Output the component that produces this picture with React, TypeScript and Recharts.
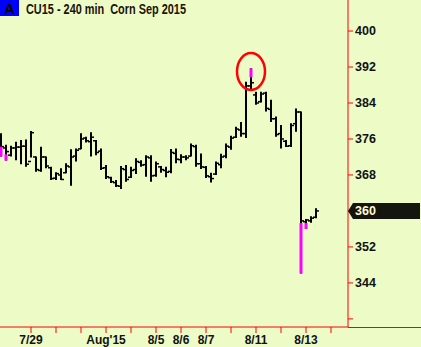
import React from 'react';
import { ComposedChart, Bar, XAxis, YAxis, ReferenceDot } from 'recharts';

// 240 min bars, CU15
const highs = [
  377.3, 374.7, 374.5, 375.4, 375.8, 375.9, 377.8, 372.1, 374.3, 372.1,
  369.8, 368.6, 369.5, 370.6, 373.7, 373.9, 377.3, 376.5, 377.5, 375.8,
  373.9, 370.2, 367.6, 366.9, 370.0, 370.2, 369.8, 371.7, 371.3, 372.4,
  372.4, 371.0, 370.0, 369.8, 373.8, 373.9, 372.6, 372.4, 375.0, 374.7,
  372.8, 370.0, 368.5, 371.0, 372.7, 375.0, 376.7, 378.7, 379.8, 388.7,
  391.7, 386.5, 386.5, 386.5, 384.7, 381.0, 379.1, 375.8, 379.5, 382.8,
  382.1, 358.2, 358.8, 360.6,
];
const lows = [
  372.1, 371.2, 372.1, 371.3, 370.4, 369.8, 371.9, 368.7, 368.7, 369.5,
  366.9, 366.9, 366.9, 368.4, 365.6, 371.0, 373.7, 375.2, 372.1, 372.4,
  369.1, 367.1, 366.2, 365.3, 364.9, 366.5, 367.3, 368.2, 369.8, 367.6,
  366.5, 367.6, 368.5, 367.5, 368.4, 370.6, 370.6, 371.3, 372.1, 369.8,
  369.3, 367.3, 366.3, 368.0, 369.5, 371.7, 373.6, 376.2, 376.5, 376.2,
  386.7, 383.6, 384.1, 382.1, 379.8, 376.5, 373.9, 374.2, 374.2, 377.6,
  346.1, 356.0, 357.4, 358.4,
];
const opens = [
  376.0, 374.0, 372.4, 374.0, 374.2, 374.4, 371.0, 372.0, 369.0, 372.0,
  369.6, 367.3, 368.0, 368.5, 369.8, 372.2, 373.8, 376.2, 375.4, 375.6,
  373.3, 369.6, 367.4, 366.3, 365.5, 369.2, 367.5, 369.2, 370.8, 370.3,
  371.8, 367.9, 369.8, 369.0, 368.8, 372.8, 371.4, 372.0, 372.2, 374.3,
  370.5, 369.7, 367.6, 368.2, 370.3, 372.2, 374.2, 376.4, 378.0, 377.2,
  387.8, 385.8, 384.3, 386.2, 382.6, 380.5, 377.2, 375.5, 374.5, 379.4,
  382.0, 357.6, 357.8, 358.6,
];
const closes = [
  374.3, 373.2, 374.0, 374.2, 374.4, 370.4, 377.4, 369.2, 372.0, 370.0,
  367.2, 368.3, 367.0, 370.0, 372.0, 373.5, 376.0, 375.6, 376.4, 373.0,
  369.5, 367.6, 366.5, 365.6, 369.4, 367.0, 369.0, 371.0, 370.2, 372.0,
  367.8, 370.5, 369.2, 368.6, 373.0, 371.5, 372.0, 371.8, 374.5, 370.5,
  369.8, 367.8, 367.2, 370.6, 372.0, 374.4, 376.2, 378.2, 377.2, 387.8,
  388.5, 384.0, 386.0, 382.8, 380.5, 377.0, 376.0, 374.4, 379.0, 382.0,
  357.8, 358.0, 358.4, 360.0,
];

// magenta signal segments
const signalBars = [0, 1, 50, 60, 61];
const signalLow = [372.1, 371.2, 389.7, 346.1, 356.0];
const signalHigh = [374.3, 372.6, 391.7, 357.3, 357.3];

const xTicks = [6, 11, 16, 21, 26, 31, 36, 41, 46, 51, 56, 61, 66];
const xLabels = ['7/29', '', '', "Aug'15", '', '8/5', '8/6', '8/7', '', '8/11', '', '8/13', ''];
const yTicks = [336, 344, 352, 360, 368, 376, 384, 392, 400];
const lastPrice = 360;
const circledBar = 50;
const circledPrice = 391;

const data = highs.map((h, i) => {
  const s = signalBars.indexOf(i);
  return {
    idx: i,
    high: h,
    low: lows[i],
    open: opens[i],
    close: closes[i],
    sigLow: s >= 0 ? signalLow[s] : null,
    sigHigh: s >= 0 ? signalHigh[s] : null,
  };
});

const BG = '#edfbc7';
const RED = '#ff0000';
const FONT = '"Liberation Sans", Arial, sans-serif';

const OhlcBar = (props: any) => {
  const { x, y, width, height, payload } = props;
  const top = Math.min(y, y + height);
  const h = Math.abs(height);
  const cx = Math.round(x + width / 2);
  const span = payload.high - payload.low;
  const py = (v: number) => top + ((payload.high - v) / span) * h;
  return (
    <g>
      <line x1={cx} x2={cx} y1={top} y2={top + h} stroke="#000" strokeWidth={2} />
      <line x1={cx - 3} x2={cx} y1={py(payload.open)} y2={py(payload.open)} stroke="#000" strokeWidth={1.5} />
      <line x1={cx} x2={cx + 3} y1={py(payload.close)} y2={py(payload.close)} stroke="#000" strokeWidth={1.5} />
      {payload.sigLow != null && (
        <rect
          x={cx - 1.5}
          y={py(payload.sigHigh)}
          width={3}
          height={py(payload.sigLow) - py(payload.sigHigh)}
          fill="#ff00ff"
        />
      )}
    </g>
  );
};

const XTick = (props: any) => {
  const { x, y, payload } = props;
  const label = xLabels[xTicks.indexOf(payload.value)] || '';
  return (
    <text x={x} y={y} dy="0.71em" textAnchor="middle" fontFamily={FONT} fontWeight="bold" fontSize={12} fill="#111">
      {label}
    </text>
  );
};

const YTick = (props: any) => {
  const { x, y, payload } = props;
  if (payload.value === 336) return null;
  if (payload.value === lastPrice) {
    const ax = x - 7;
    return (
      <g>
        <polygon
          points={`${ax},${y} ${ax + 5},${y - 8} ${ax + 72},${y - 8} ${ax + 72},${y + 8} ${ax + 5},${y + 8}`}
          fill="#151510"
        />
        <text x={x} y={y} dy="0.355em" fontFamily={FONT} fontWeight="bold" fontSize={12.5} fill="#fffbd0">
          {payload.value}
        </text>
      </g>
    );
  }
  return (
    <text x={x} y={y} dy="0.355em" fontFamily={FONT} fontWeight="bold" fontSize={12.5} fill="#111">
      {payload.value}
    </text>
  );
};

const Ellipse = (props: any) => (
  <ellipse cx={props.cx} cy={props.cy} rx={14} ry={18.5} fill="none" stroke={RED} strokeWidth={2.5} />
);

export default function App() {
  return (
    <div style={{ position: 'relative', width: 421, height: 347, background: BG }}>
      <style>{'body{margin:0}'}</style>
      <ComposedChart width={421} height={347} data={data} margin={{ top: 0, right: 0, left: 0, bottom: 0 }}>
        <XAxis
          dataKey="idx"
          type="number"
          domain={[-0.2, 69.4]}
          ticks={xTicks}
          allowDataOverflow
          height={20}
          axisLine={{ stroke: RED }}
          tickLine={{ stroke: RED }}
          tickSize={6}
          tickMargin={2}
          tick={<XTick />}
          interval={0}
        />
        <YAxis
          orientation="right"
          width={73}
          domain={[334.2, 406.9]}
          ticks={yTicks}
          allowDataOverflow
          axisLine={{ stroke: RED }}
          tickLine={{ stroke: RED }}
          tickSize={5}
          tickMargin={2}
          tick={<YTick />}
          interval={0}
        />
        <Bar
          dataKey={(d: any) => [d.low, d.high]}
          barSize={4}
          shape={<OhlcBar />}
          isAnimationActive={false}
        />
        <ReferenceDot x={circledBar} y={circledPrice} r={14} shape={<Ellipse />} />
      </ComposedChart>
      <div style={{ position: 'absolute', left: 348, top: 326.5, width: 73, height: 1, background: RED }} />
      <svg style={{ position: 'absolute', left: 0, top: 0 }} width={240} height={24}>
        <rect x={0} y={0} width={19} height={16} fill="#0000ff" />
        <text x={9.5} y={14} textAnchor="middle" fontFamily={FONT} fontWeight="bold" fontSize={15} fill="#000">
          A
        </text>
        <text
          x={26}
          y={14}
          fontFamily={FONT}
          fontWeight="bold"
          fontSize={14}
          fill="#1c1408"
          textLength={160}
          lengthAdjust="spacingAndGlyphs"
          style={{ whiteSpace: 'pre' }}
        >
          CU15 - 240 min  Corn Sep 2015
        </text>
      </svg>
    </div>
  );
}
